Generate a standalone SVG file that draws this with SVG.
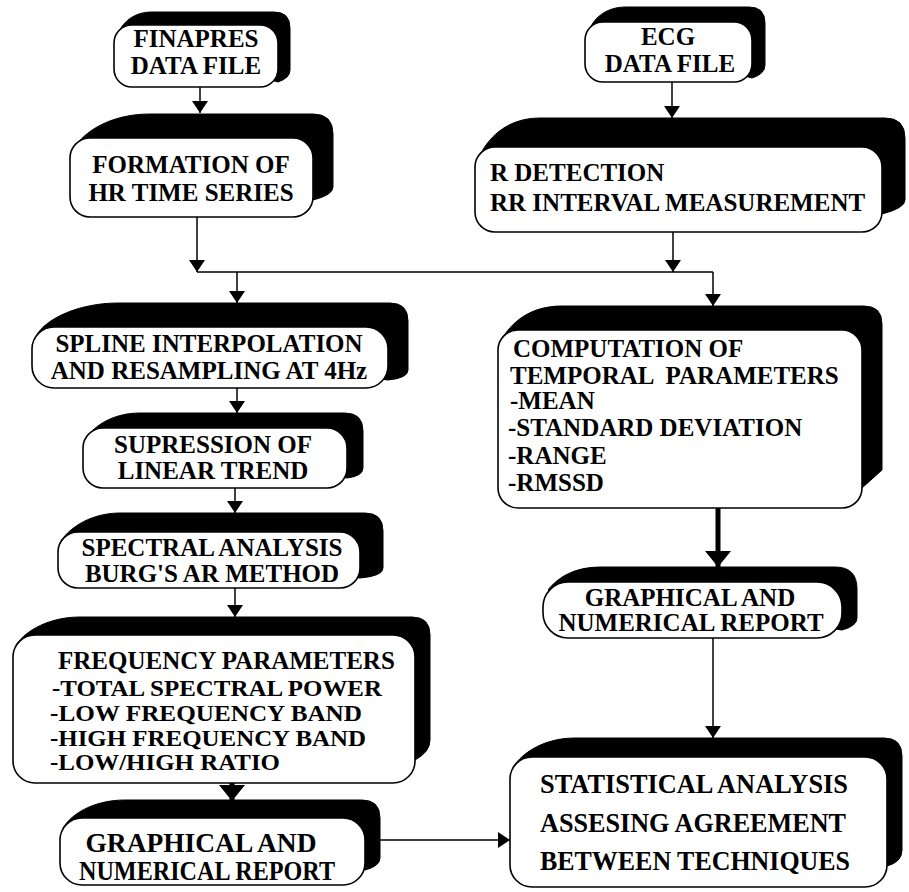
<svg xmlns="http://www.w3.org/2000/svg" width="909" height="892" viewBox="0 0 909 892">
  <defs>
    <style>
      .shade { fill: #000; stroke: #000; stroke-width: 1; stroke-linejoin: round; }
      .face { fill: #fff; stroke: #000; stroke-width: 1.6; }
      .lbl { font-family: "Liberation Serif", "Times New Roman", serif; font-weight: bold; font-size: 25px; fill: #000; }
      .mid { text-anchor: middle; }
      .cond { font-size: 27px; }
      .list { font-size: 24px; }
      .wire { fill: none; stroke: #000; stroke-width: 1.5; }
      .thick { fill: none; stroke: #000; stroke-width: 5; }
    </style>
    <marker id="tip" markerUnits="userSpaceOnUse" viewBox="0 0 12 16" refX="12" refY="8" markerWidth="12" markerHeight="16" orient="auto">
      <path d="M0,0 L12,8 L0,16 Z" fill="#000"/>
    </marker>
    <marker id="tipBig" markerUnits="userSpaceOnUse" viewBox="0 0 16 26" refX="16" refY="13" markerWidth="16" markerHeight="26" orient="auto">
      <path d="M0,0 L16,13 L0,26 Z" fill="#000"/>
    </marker>
  </defs>

  <rect width="909" height="892" fill="#fff"/>

  <!-- connectors -->
  <g id="connectors">
    <path class="wire" d="M200,87 V113" marker-end="url(#tip)"/>
    <path class="wire" d="M672,82 V118" marker-end="url(#tip)"/>
    <path class="wire" d="M197,217 V272" marker-end="url(#tip)"/>
    <path class="wire" d="M673,232 V272" marker-end="url(#tip)"/>
    <path class="wire" d="M197,272 H713"/>
    <path class="wire" d="M237,272 V303" marker-end="url(#tip)"/>
    <path class="wire" d="M713,272 V306" marker-end="url(#tip)"/>
    <path class="wire" d="M237,388 V413" marker-end="url(#tip)"/>
    <path class="wire" d="M235,488 V513" marker-end="url(#tip)"/>
    <path class="wire" d="M235,588 V617" marker-end="url(#tip)"/>
    <path class="thick" d="M232,783 V801" marker-end="url(#tipBig)"/>
    <path class="wire" d="M380,840 H510" marker-end="url(#tip)"/>
    <path class="thick" d="M718,508 V567" marker-end="url(#tipBig)"/>
    <path class="wire" d="M713,638 V738" marker-end="url(#tip)"/>
  </g>

  <!-- source files -->
  <g id="finapres">
    <path class="shade" d="M117,36 C122,22 134,12 152,12 H274 Q290,12 290,28 V70 Q290,78 278,82 Z"/>
    <rect class="face" x="114" y="25" width="164" height="62" rx="18" ry="18"/>
    <text class="lbl mid" x="196" y="47" font-size="24">FINAPRES</text>
    <text class="lbl mid" x="196" y="74" font-size="24">DATA FILE</text>
  </g>

  <g id="ecg">
    <path class="shade" d="M588,33 C593,18 606,7 626,7 H749 Q765,7 765,23 V65 Q765,74 752,78 Z"/>
    <rect class="face" x="585" y="22" width="167" height="60" rx="18" ry="18"/>
    <text class="lbl mid" x="668" y="45" font-size="24">ECG</text>
    <text class="lbl mid" x="670" y="72" font-size="24">DATA FILE</text>
  </g>

  <!-- left branch: spectral analysis -->
  <g id="formation">
    <path class="shade" d="M74,148 C84,132 110,114 150,114 H313 Q333,114 333,134 V187 Q333,195 313,200 Z"/>
    <rect class="face" x="70" y="138" width="243" height="79" rx="20" ry="20"/>
    <text class="lbl mid" x="191" y="173">FORMATION OF</text>
    <text class="lbl mid" x="191" y="201">HR TIME SERIES</text>
  </g>

  <g id="spline">
    <path class="shade" d="M36,336 C46,318 80,303 118,303 H390 Q408,303 408,321 V370 Q408,378 388,380 Z"/>
    <rect class="face" x="32" y="327" width="356" height="61" rx="22" ry="22"/>
    <text class="lbl mid" x="209" y="352">SPLINE INTERPOLATION</text>
    <text class="lbl mid" x="209" y="379">AND RESAMPLING AT 4Hz</text>
  </g>

  <g id="trend">
    <path class="shade" d="M86,438 C96,424 115,413 140,413 H345 Q363,413 363,431 V468 Q363,476 347,478 Z"/>
    <rect class="face" x="83" y="428" width="264" height="60" rx="20" ry="20"/>
    <text class="lbl mid" x="213" y="453">SUPRESSION OF</text>
    <text class="lbl mid" x="213" y="479">LINEAR TREND</text>
  </g>

  <g id="spectral">
    <path class="shade" d="M61,541 C70,527 92,513 120,513 H365 Q383,513 383,531 V568 Q383,576 360,578 Z"/>
    <rect class="face" x="58" y="532" width="302" height="56" rx="20" ry="20"/>
    <text class="lbl mid" x="212" y="556">SPECTRAL ANALYSIS</text>
    <text class="lbl mid" x="212" y="582">BURG'S AR METHOD</text>
  </g>

  <g id="frequency">
    <path class="shade" d="M16,645 C26,630 50,617 80,617 H412 Q430,617 430,635 V740 Q430,752 415,760 Z"/>
    <rect class="face" x="13" y="635" width="402" height="148" rx="22" ry="22"/>
    <text class="lbl" x="58" y="669">FREQUENCY PARAMETERS</text>
    <text class="lbl list" x="52" y="696" textLength="330" lengthAdjust="spacingAndGlyphs">-TOTAL SPECTRAL POWER</text>
    <text class="lbl list" x="50" y="721" textLength="312" lengthAdjust="spacingAndGlyphs">-LOW FREQUENCY BAND</text>
    <text class="lbl list" x="50" y="746" textLength="316" lengthAdjust="spacingAndGlyphs">-HIGH FREQUENCY BAND</text>
    <text class="lbl list" x="50" y="770" textLength="230" lengthAdjust="spacingAndGlyphs">-LOW/HIGH RATIO</text>
  </g>

  <g id="report-spectral">
    <path class="shade" d="M63,828 C72,813 95,800 125,800 H362 Q380,800 380,818 V858 Q380,866 365,870 Z"/>
    <rect class="face" x="60" y="818" width="305" height="67" rx="22" ry="22"/>
    <text class="lbl cond mid" x="201" y="852" textLength="231" lengthAdjust="spacingAndGlyphs">GRAPHICAL AND</text>
    <text class="lbl cond mid" x="207" y="880" textLength="256" lengthAdjust="spacingAndGlyphs">NUMERICAL REPORT</text>
  </g>

  <!-- right branch: temporal analysis -->
  <g id="rdetect">
    <path class="shade" d="M479,157 C487,140 505,118 540,118 H885 Q905,118 905,138 V200 Q905,208 882,214 Z"/>
    <rect class="face" x="475" y="147" width="407" height="85" rx="20" ry="20"/>
    <text class="lbl" x="490" y="181">R DETECTION</text>
    <text class="lbl" x="490" y="211">RR INTERVAL MEASUREMENT</text>
  </g>

  <g id="computation">
    <path class="shade" d="M501,340 C512,322 530,306 562,306 H864 Q882,306 882,324 V470 L862,488 Z"/>
    <rect class="face" x="498" y="330" width="364" height="178" rx="20" ry="20"/>
    <text class="lbl" x="513" y="357">COMPUTATION OF</text>
    <text class="lbl" x="510" y="384" xml:space="preserve">TEMPORAL  PARAMETERS</text>
    <text class="lbl" x="510" y="409">-MEAN</text>
    <text class="lbl" x="508" y="436">-STANDARD DEVIATION</text>
    <text class="lbl" x="508" y="464">-RANGE</text>
    <text class="lbl" x="508" y="491">-RMSSD</text>
  </g>

  <g id="report-temporal">
    <path class="shade" d="M548,590 C558,577 575,567 600,567 H835 Q857,567 857,589 V618 Q857,626 842,630 Z"/>
    <rect class="face" x="543" y="582" width="299" height="56" rx="25" ry="25"/>
    <text class="lbl mid" x="690" y="606" font-size="24">GRAPHICAL AND</text>
    <text class="lbl mid" x="691" y="631" font-size="24">NUMERICAL REPORT</text>
  </g>

  <!-- comparison of both techniques -->
  <g id="statistics">
    <path class="shade" d="M513,767 C523,752 545,738 575,738 H884 Q902,738 902,756 V850 Q902,862 887,866 Z"/>
    <rect class="face" x="510" y="757" width="377" height="130" rx="22" ry="22"/>
    <text class="lbl cond" x="540" y="793" textLength="308" lengthAdjust="spacingAndGlyphs">STATISTICAL ANALYSIS</text>
    <text class="lbl cond" x="540" y="832" textLength="306" lengthAdjust="spacingAndGlyphs">ASSESING AGREEMENT</text>
    <text class="lbl cond" x="540" y="870" textLength="310" lengthAdjust="spacingAndGlyphs">BETWEEN TECHNIQUES</text>
  </g>
</svg>
